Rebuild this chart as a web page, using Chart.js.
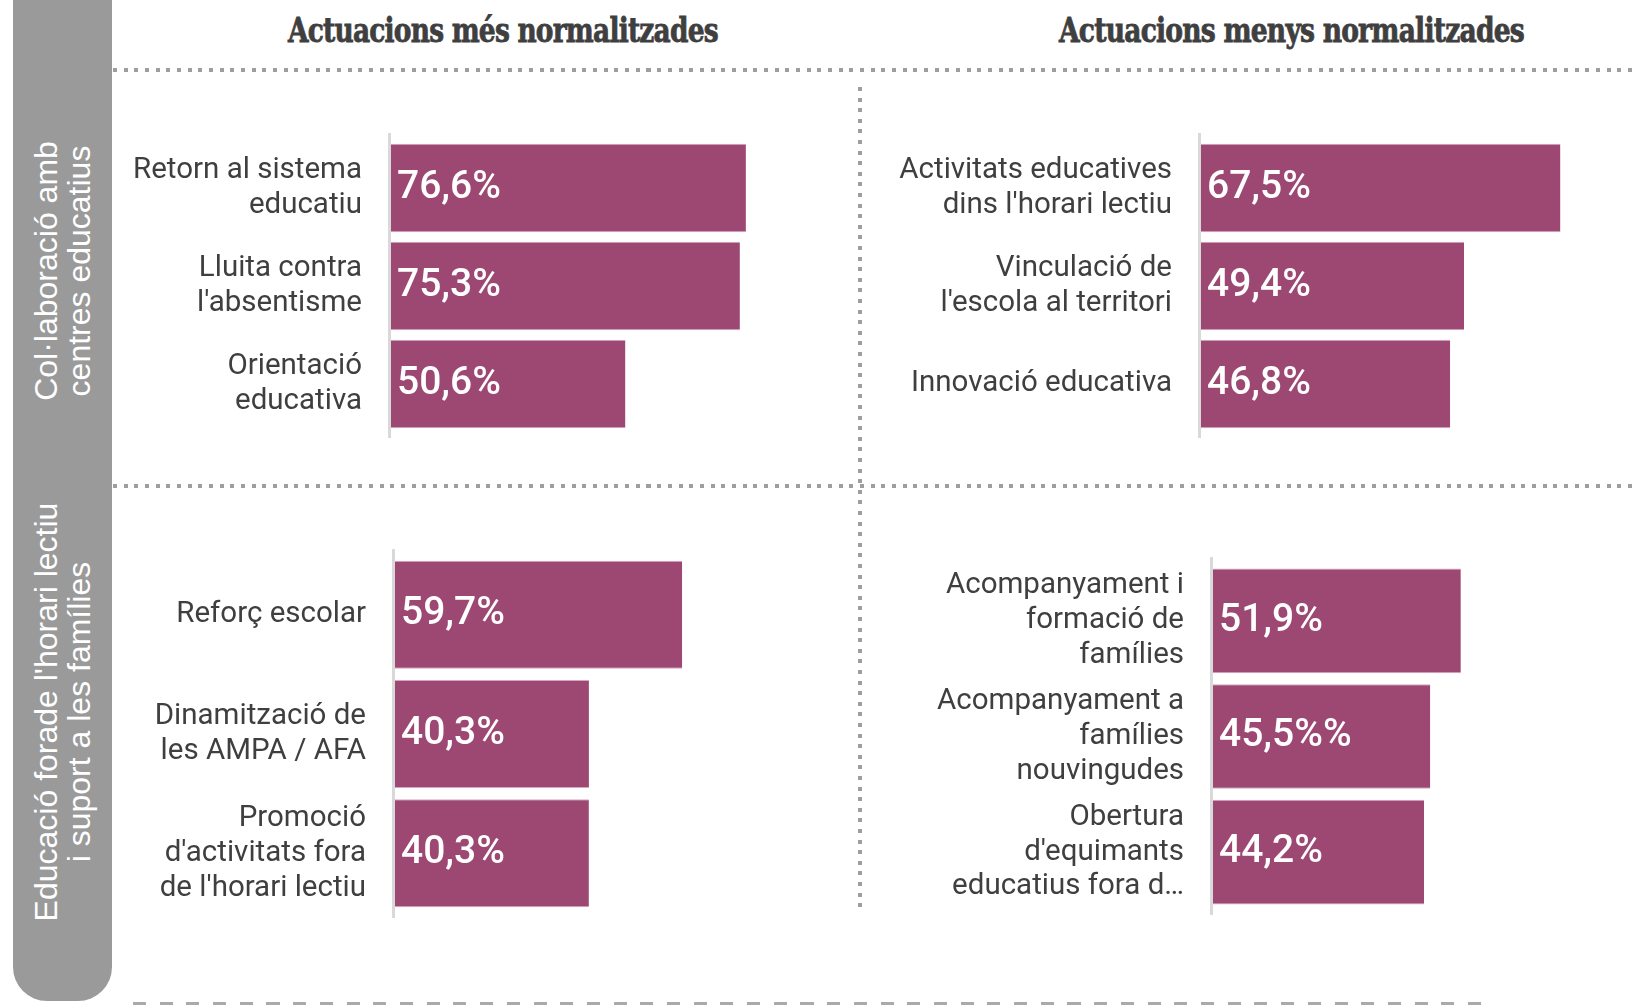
<!DOCTYPE html>
<html>
<head>
<meta charset="utf-8">
<script src="https://cdn.jsdelivr.net/npm/chart.js@4.4.1/dist/chart.umd.min.js"></script>
<style>
  html, body { margin: 0; padding: 0; background: #fff; }
  body { width: 1635px; height: 1005px; position: relative; overflow: hidden; font-family: Roboto, sans-serif; }
  .side { position: absolute; left: 13px; top: -40px; width: 99px; height: 1041px; background: #9a9a9a; border-radius: 0 0 34px 34px; }
  .side-txt { position: absolute; color: #fff; font-family: "Liberation Sans", Arial, sans-serif; font-size: 32px; line-height: 33px;
    text-align: center; white-space: nowrap; transform: translate(-50%, -50%) rotate(-90deg); }
  .title { position: absolute; top: 11px; font-family: "DejaVu Serif", serif; font-weight: bold; font-size: 33px; line-height: 40px;
    color: #3f3f3f; white-space: nowrap; letter-spacing: -1px; -webkit-text-stroke: 0.8px #3f3f3f; }
  .hdots { position: absolute; left: 113px; width: 1522px; height: 4px;
    background: repeating-linear-gradient(to right, #9e9e9e 0 4px, transparent 4px 10.67px); }
  .vdots { position: absolute; left: 858px; width: 4px; top: 87px; height: 826px;
    background: repeating-linear-gradient(to bottom, #9e9e9e 0 4px, transparent 4px 10.6px); }
  .dash { position: absolute; left: 133px; top: 1002px; width: 1355px; height: 4px;
    background: repeating-linear-gradient(to right, #aaa 0 13px, transparent 13px 26.7px); }
  canvas { position: absolute; }
</style>
</head>
<body>
<div class="side"></div>
<div class="side-txt" style="left:63px; top:271px;">Col·laboració amb<br>centres educatius</div>
<div class="side-txt" style="left:63px; top:712px;">Educació forade l'horari lectiu<br>i suport a les famílies</div>

<div class="title" id="t1">Actuacions més normalitzades</div>
<div class="title" id="t2">Actuacions menys normalitzades</div>

<div class="hdots" style="top:68px;"></div>
<div class="hdots" style="top:484px;"></div>
<div class="vdots"></div>
<div class="dash"></div>

<canvas id="tl" width="737" height="494" style="left:71px; top:39px;"></canvas>
<canvas id="tr" width="746" height="494" style="left:881px; top:39px;"></canvas>
<canvas id="bl" width="753" height="558" style="left:75px; top:455px;"></canvas>
<canvas id="br" width="702" height="547" style="left:893px; top:463px;"></canvas>

<script>
// Col·laboració amb centres educatius
const tlLabels = [['Retorn al sistema', 'educatiu'], ['Lluita contra', "l'absentisme"], ['Orientació', 'educativa']];
const tlValues = [76.6, 75.3, 50.6];
const trLabels = [['Activitats educatives', "dins l'horari lectiu"], ['Vinculació de', "l'escola al territori"], ['Innovació educativa']];
const trValues = [67.5, 49.4, 46.8];

// Educació fora de l'horari lectiu i suport a les famílies
const blLabels = [['Reforç escolar'], ['Dinamització de', 'les AMPA / AFA'], ['Promoció', "d'activitats fora", "de l'horari lectiu"]];
const blValues = [59.7, 40.3, 40.3];
const brLabels = [['Acompanyament i', 'formació de', 'famílies'], ['Acompanyament a', 'famílies', 'nouvingudes'], ['Obertura', "d'equimants", 'educatius fora d…']];
const brValues = [51.9, 45.5, 44.2];
const brSuffix = ['%', '%%', '%'];

const BAR = '#9c4873';
const TEXT = '#3f3f3f';
const Y_WIDTH = 320;
const PAD = 100;

function fmt(v) {
  return v.toFixed(1).replace('.', ',');
}

// fit the two headings to their widths in the picture
function fitTitle(id, centerX, width) {
  const el = document.getElementById(id);
  const w = el.offsetWidth;
  el.style.left = (centerX - w / 2) + 'px';
  el.style.transform = 'scaleX(' + (width / w) + ')';
}
fitTitle('t1', 503, 430);
fitTitle('t2', 1291, 465);

const axisLine = {
  id: 'axisLine',
  afterDraw(chart) {
    const { ctx, chartArea } = chart;
    ctx.save();
    ctx.strokeStyle = '#d9d9d9';
    ctx.lineWidth = 3;
    ctx.beginPath();
    ctx.moveTo(chartArea.left - 1.5, chartArea.top - 6);
    ctx.lineTo(chartArea.left - 1.5, chartArea.bottom + 5);
    ctx.stroke();
    ctx.restore();
  }
};

const valueLabels = {
  id: 'valueLabels',
  afterDatasetsDraw(chart, args, opts) {
    const { ctx } = chart;
    const data = chart.data.datasets[0].data;
    chart.getDatasetMeta(0).data.forEach((bar, i) => {
      ctx.save();
      ctx.fillStyle = '#fff';
      ctx.font = '500 39px Roboto';
      ctx.textBaseline = 'middle';
      ctx.textAlign = 'left';
      const suffix = opts.suffix ? opts.suffix[i] : '%';
      ctx.fillText(fmt(data[i]) + suffix, bar.base + 6, bar.y);
      ctx.restore();
    });
  }
};

function makeChart(id, labels, values, xMax, suffix) {
  return new Chart(document.getElementById(id), {
    type: 'bar',
    data: {
      labels,
      datasets: [{
        data: values,
        backgroundColor: BAR,
        borderColor: '#d6a6c0',
        borderWidth: { top: 1, bottom: 1, left: 0, right: 0 },
        borderSkipped: false,
        categoryPercentage: 1,
        barPercentage: 0.905
      }]
    },
    options: {
      indexAxis: 'y',
      responsive: false,
      maintainAspectRatio: false,
      animation: false,
      layout: { padding: { top: PAD, bottom: PAD, left: 0, right: 0 } },
      plugins: {
        legend: { display: false },
        tooltip: { enabled: false },
        valueLabels: { suffix }
      },
      scales: {
        x: { display: false, min: 0, max: xMax },
        y: {
          afterFit(scale) { scale.width = Y_WIDTH; },
          grid: { display: false, drawTicks: false },
          border: { display: false },
          ticks: {
            color: TEXT,
            padding: 29,
            font: { family: 'Roboto', size: 29.5, lineHeight: 1.18 }
          }
        }
      }
    },
    plugins: [axisLine, valueLabels]
  });
}

makeChart('tl', tlLabels, tlValues, 90);
makeChart('tr', trLabels, trValues, 80);
makeChart('bl', blLabels, blValues, 90);
makeChart('br', brLabels, brValues, 80, brSuffix);
</script>
</body>
</html>
